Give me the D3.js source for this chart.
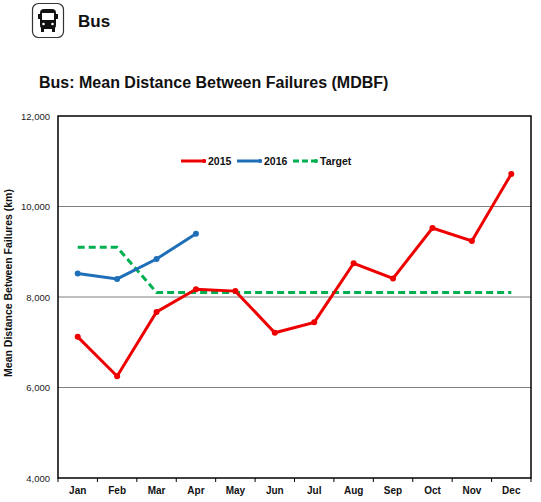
<html>
<script src='https://d3js.org/d3.v7.min.js'></script>
<style>
    body { margin: 0; background: #fff; }
    text { font-family: Arial, 'Liberation Sans', sans-serif; }
</style>

<body onload='init()'>
    <svg width=541 height=502></svg>
    <script>
        // data
        const months = ['Jan', 'Feb', 'Mar', 'Apr', 'May', 'Jun', 'Jul', 'Aug', 'Sep', 'Oct', 'Nov', 'Dec'];
        const mdbf2015 = [7120, 6250, 7670, 8170, 8130, 7210, 7440, 8745, 8410, 9525, 9240, 10720];
        const mdbf2016 = [8520, 8400, 8840, 9400];
        const target = [9100, 9100, 8100, 8100, 8100, 8100, 8100, 8100, 8100, 8100, 8100, 8100];
        const yTicks = [4000, 6000, 8000, 10000, 12000];

        function init() {
            const svg = d3.select('svg');
            const left = 58, right = 531, top = 116, bottom = 478;

            // header: bus icon + label
            const icon = svg.append('g').attr('transform', 'translate(32,3)');
            icon.append('rect').attr('x', 0.5).attr('y', 0.5).attr('width', 31).attr('height', 34)
                .attr('rx', 6).attr('fill', '#fff').attr('stroke', '#333').attr('stroke-width', 1.2);
            icon.append('rect').attr('x', 8).attr('y', 6).attr('width', 16).attr('height', 20)
                .attr('rx', 4).attr('fill', '#111');
            icon.append('rect').attr('x', 10).attr('y', 10).attr('width', 12).attr('height', 7)
                .attr('fill', '#fff');
            icon.append('rect').attr('x', 9).attr('y', 25).attr('width', 3).attr('height', 4).attr('fill', '#111');
            icon.append('rect').attr('x', 20).attr('y', 25).attr('width', 3).attr('height', 4).attr('fill', '#111');
            icon.append('rect').attr('x', 6).attr('y', 11).attr('width', 2).attr('height', 5).attr('fill', '#111');
            icon.append('rect').attr('x', 24).attr('y', 11).attr('width', 2).attr('height', 5).attr('fill', '#111');
            icon.append('circle').attr('cx', 11.5).attr('cy', 21).attr('r', 1.3).attr('fill', '#fff');
            icon.append('circle').attr('cx', 20.5).attr('cy', 21).attr('r', 1.3).attr('fill', '#fff');

            svg.append('text').attr('x', 78).attr('y', 27).text('Bus')
                .attr('font-size', 17).attr('font-weight', 'bold').attr('fill', '#111');

            svg.append('text').attr('x', 39).attr('y', 88).text('Bus: Mean Distance Between Failures (MDBF)')
                .attr('font-size', 16).attr('font-weight', 'bold').attr('fill', '#111');

            const x = d3.scaleBand().domain(months).range([left, right]);
            const y = d3.scaleLinear().domain([4000, 12000]).range([bottom, top]);
            const cx = m => x(m) + x.bandwidth() / 2;

            // gridlines
            svg.append('g')
                .selectAll('line')
                .data(yTicks.slice(1, -1))
                .enter()
                .append('line')
                .attr('x1', left).attr('x2', right)
                .attr('y1', d => y(d)).attr('y2', d => y(d))
                .attr('stroke', '#808080').attr('stroke-width', 1);

            // y axis labels
            const yAxis = svg.append('g')
                .attr('transform', 'translate(' + left + ',0)')
                .call(d3.axisLeft(y).tickValues(yTicks).tickFormat(d3.format(',')).tickSize(0).tickPadding(8));
            yAxis.select('.domain').remove();
            yAxis.selectAll('text').attr('font-size', 9.5).attr('fill', '#222')
                .attr('font-family', 'Arial, Liberation Sans, sans-serif');

            // x axis
            const xAxis = svg.append('g')
                .attr('transform', 'translate(0,' + bottom + ')')
                .call(d3.axisBottom(x).tickSize(0).tickPadding(9));
            xAxis.select('.domain').remove();
            xAxis.selectAll('text').attr('font-size', 10).attr('font-weight', 'bold').attr('fill', '#111')
                .attr('font-family', 'Arial, Liberation Sans, sans-serif');
            svg.append('g')
                .selectAll('line')
                .data(months)
                .enter()
                .append('line')
                .attr('x1', d => x(d)).attr('x2', d => x(d))
                .attr('y1', bottom).attr('y2', bottom + 4)
                .attr('stroke', '#000').attr('stroke-width', 1);
            svg.append('line').attr('x1', right).attr('x2', right).attr('y1', bottom).attr('y2', bottom + 4)
                .attr('stroke', '#000');

            // plot border
            svg.append('rect').attr('x', left).attr('y', top)
                .attr('width', right - left).attr('height', bottom - top)
                .attr('fill', 'none').attr('stroke', '#000').attr('stroke-width', 1.5);

            // y label
            svg.append('text')
                .attr('transform', 'translate(12,283) rotate(-90)')
                .attr('text-anchor', 'middle')
                .attr('font-size', 10.5).attr('font-weight', 'bold').attr('fill', '#111')
                .text('Mean Distance Between Failures (km)');

            const line = d3.line().x((d, i) => cx(months[i])).y(d => y(d));

            const series = [
                { data: target, color: '#00b050', dash: '7,4', dots: false },
                { data: mdbf2015, color: '#ee0000', dash: null, dots: true },
                { data: mdbf2016, color: '#1f6fb8', dash: null, dots: true }
            ];

            series.forEach(s => {
                svg.append('path').datum(s.data)
                    .attr('d', line)
                    .attr('fill', 'none').attr('stroke', s.color).attr('stroke-width', 3)
                    .attr('stroke-dasharray', s.dash);
                if (s.dots) {
                    svg.append('g').selectAll('circle')
                        .data(s.data)
                        .enter()
                        .append('circle')
                        .attr('cx', (d, i) => cx(months[i]))
                        .attr('cy', d => y(d))
                        .attr('r', 3).attr('fill', s.color);
                }
            });

            // legend
            const legend = [
                { name: '2015', color: '#ee0000', x: 181, dash: null },
                { name: '2016', color: '#1f6fb8', x: 237, dash: null },
                { name: 'Target', color: '#00b050', x: 293, dash: '6,3' }
            ];
            const lg = svg.append('g');
            legend.forEach(l => {
                lg.append('line').attr('x1', l.x).attr('x2', l.x + 25).attr('y1', 161).attr('y2', 161)
                    .attr('stroke', l.color).attr('stroke-width', 3).attr('stroke-dasharray', l.dash);
                lg.append('circle').attr('cx', l.x + 23).attr('cy', 161).attr('r', 2).attr('fill', l.color);
                lg.append('text').attr('x', l.x + 27).attr('y', 165).text(l.name)
                    .attr('font-size', 10.5).attr('font-weight', 'bold').attr('fill', '#111');
            });
        }
    </script>
</body>

</html>
